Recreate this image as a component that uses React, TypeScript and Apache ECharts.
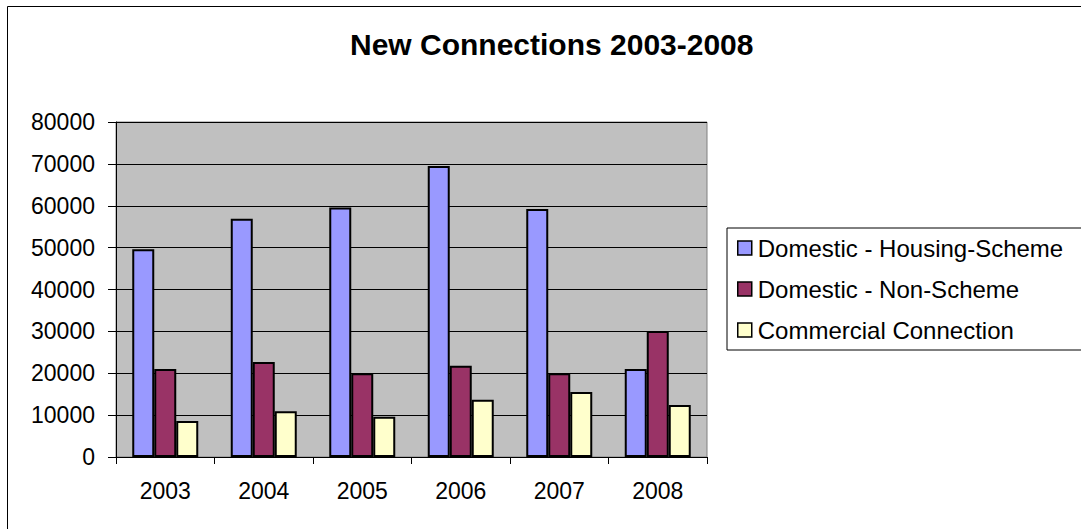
import React, { useEffect, useRef } from "react";
import * as echarts from "echarts";

const categories = ["2003", "2004", "2005", "2006", "2007", "2008"];
const housingScheme = [49600, 56900, 59600, 69500, 59200, 21000];
const nonScheme = [21000, 22700, 20000, 21800, 20000, 30100];
const commercial = [8600, 10900, 9600, 13700, 15500, 12400];
const seriesNames = [
  "Domestic - Housing-Scheme",
  "Domestic - Non-Scheme",
  "Commercial Connection",
];
const seriesColors = ["#9999FF", "#993366", "#FFFFCC"];

const FONT = "'Liberation Sans', Arial, Helvetica, sans-serif";

export default function App() {
  const ref = useRef<HTMLDivElement>(null);
  useEffect(() => {
    if (!ref.current) return;
    const chart = echarts.init(ref.current, undefined, { renderer: "svg" });
    const dataSets = [housingScheme, nonScheme, commercial];
    chart.setOption({
      animation: false,
      backgroundColor: "#ffffff",
      title: {
        text: "New Connections 2003-2008",
        left: 350,
        top: 29,
        padding: 0,
        textStyle: {
          fontFamily: FONT,
          fontWeight: "bold",
          fontSize: 30,
          color: "#000",
        },
      },
      graphic: [
        {
          type: "rect",
          z: -10,
          silent: true,
          shape: { x: 7.5, y: 6.5, width: 1200, height: 700 },
          style: { fill: "none", stroke: "#000", lineWidth: 1 },
        },
      ],
      legend: {
        orient: "vertical",
        left: 727,
        top: 228,
        padding: [8, 60, 8, 10],
        itemGap: 17,
        itemWidth: 14,
        itemHeight: 14,
        icon: "rect",
        borderColor: "#000",
        borderWidth: 1,
        backgroundColor: "#fff",
        textStyle: { fontFamily: FONT, fontSize: 24, color: "#000", padding: [0, 0, 0, 1] },
        itemStyle: { borderColor: "#000", borderWidth: 1.5 },
        data: seriesNames,
      },
      grid: {
        left: 116,
        top: 122,
        right: 374,
        bottom: 72,
        show: true,
        backgroundColor: "#C0C0C0",
        borderColor: "#808080",
        borderWidth: 1,
      },
      xAxis: {
        type: "category",
        data: categories,
        axisLine: { lineStyle: { color: "#000", width: 1 } },
        axisTick: { show: true, length: 7, alignWithLabel: false, lineStyle: { color: "#000" } },
        axisLabel: { margin: 22, fontFamily: FONT, fontSize: 23, color: "#000" },
      },
      yAxis: {
        type: "value",
        min: 0,
        max: 80000,
        interval: 10000,
        axisLine: { show: true, lineStyle: { color: "#000", width: 1 } },
        axisTick: { show: true, length: 8, lineStyle: { color: "#000" } },
        axisLabel: {
          margin: 21,
          fontFamily: FONT,
          fontSize: 23,
          color: "#000",
          formatter: (v: number) => String(v),
        },
        splitLine: { show: true, lineStyle: { color: "#000", width: 1 } },
      },
      series: seriesNames.map((name, i) => ({
        name,
        type: "bar",
        data: dataSets[i],
        barWidth: 22,
        barGap: "0%",
        itemStyle: { color: seriesColors[i], borderColor: "#000", borderWidth: 2 },
      })),
    });
    return () => chart.dispose();
  }, []);
  return (
    <div
      ref={ref}
      style={{ position: "fixed", left: 0, top: 0, width: 1081, height: 529 }}
    />
  );
}
